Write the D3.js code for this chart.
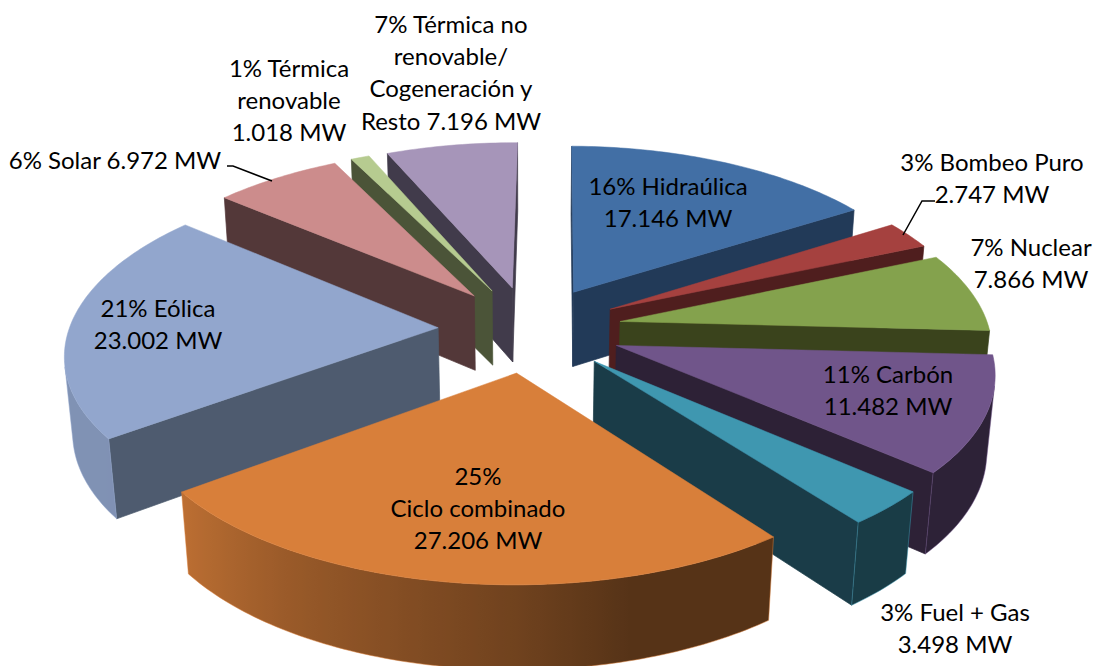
<!DOCTYPE html>
<html>
<head>
<meta charset="utf-8">
<script src="https://cdn.jsdelivr.net/npm/d3@7"></script>
<style>
html, body { margin: 0; padding: 0; background: #fff; }
svg { display: block; }
text { font-family: Lato, "Noto Sans", sans-serif; font-size: 24px; fill: #000; }
</style>
</head>
<body>
<script>
var categories = ['Hidraúlica', 'Bombeo Puro', 'Nuclear', 'Carbón', 'Fuel + Gas', 'Ciclo combinado', 'Eólica', 'Solar', 'Térmica renovable', 'Térmica no renovable/Cogeneración y Resto'];
var megawatts = [17146, 2747, 7866, 11482, 3498, 27206, 23002, 6972, 1018, 7196];
var topColors = ['#426fa5', '#a5413f', '#84a24d', '#70558a', '#3f97b0', '#d87f3a', '#92a6cd', '#cc8c8c', '#b6cb90', '#a695b9'];
var wallColors = ['#223a58', '#4f1e1e', '#3a431c', '#2d2136', '#1a3c48', '#55331a', '#4e5b6f', '#533839', '#4b5438', '#413b4b'];

// label lines, one entry per slice
var labelLines = [
    ['16% Hidraúlica', '17.146 MW'],
    ['3% Bombeo Puro', '2.747 MW'],
    ['7% Nuclear', '7.866 MW'],
    ['11% Carbón', '11.482 MW'],
    ['3% Fuel + Gas', '3.498 MW'],
    ['25%', 'Ciclo combinado', '27.206 MW'],
    ['21% Eólica', '23.002 MW'],
    ['6% Solar 6.972 MW'],
    ['1% Térmica', 'renovable', '1.018 MW'],
    ['7% Térmica no', 'renovable/', 'Cogeneración y', 'Resto 7.196 MW']
];
var labelCenterX = [668, 992, 1031, 888, 955, 478, 158, 115, 289, 451];
var labelFirstY = [195, 171, 256, 383, 621, 485, 317, 169, 77, 33];
var lineStep = 32.2;

var leaderLines = [
    [[227, 166], [233, 166], [272, 181]],
    [[935, 201], [922, 201], [903, 235]]
];

// geometry of the tilted pie
var width = 1093, height = 666;
var cx = 530, cy = 329;
var radius = 369, explode = 92, tilt = 0.469, thick = 77;
var perspX = 0.00036, perspY = 0.00034, perspZ = 0.00023;
var firstAngle = 0.01;

var shade = d3.scaleLinear().domain([0, 165, 180, 210, 234, 360]).range([0.4, 0.4, 0.52, 0.7, 0.88, 0.88]);

function project(x, y, z) {
    var kx = 1 / (1 - y * perspX + z * perspZ);
    var ky = 1 / (1 - y * perspY + z * perspZ);
    return [cx + x * kx, cy + y * tilt * ky + z * kx];
}

// signed area, negative when the wall faces the viewer
function facing(pts) {
    var s = 0;
    for (var i = 0; i < pts.length; i++) {
        var a = pts[i], b = pts[(i + 1) % pts.length];
        s += a[0] * b[1] - b[0] * a[1];
    }
    return s < 0;
}

var svg = d3.select(document.body).append('svg').attr('width', width).attr('height', height);
var defs = svg.append('defs');
var line = d3.line();
var pie = d3.pie().sort(null).startAngle(firstAngle).endAngle(2 * Math.PI + firstAngle);

var slices = pie(megawatts).map(function (d, i) {
    var mid = (d.startAngle + d.endAngle) / 2;
    return {
        i: i,
        start: d.startAngle,
        end: d.endAngle,
        mid: mid,
        tx: explode * Math.sin(mid),
        ty: -explode * Math.cos(mid)
    };
});

// back slices first
var order = slices.slice().sort(function (a, b) {
    return Math.cos(b.mid) - Math.cos(a.mid);
});

order.forEach(function (s) {
    var g = svg.append('g').attr('class', 'slice');
    var steps = Math.max(2, Math.ceil((s.end - s.start) / (Math.PI / 180)));
    var angles = d3.range(steps + 1).map(function (k) {
        return s.start + (s.end - s.start) * k / steps;
    });
    var rim = angles.map(function (a) {
        return [s.tx + radius * Math.sin(a), s.ty - radius * Math.cos(a)];
    });
    var tip = [s.tx, s.ty];

    function quad(p, q) {
        return [project(p[0], p[1], 0), project(q[0], q[1], 0), project(q[0], q[1], thick), project(p[0], p[1], thick)];
    }

    function wall(p, q, fill) {
        var pts = quad(p, q);
        if (!facing(pts)) return;
        g.append('path').attr('d', line(pts) + 'Z').attr('fill', fill).attr('stroke', fill).attr('stroke-width', 0.7);
    }

    wall(tip, rim[0], wallColors[s.i]);
    wall(rim[rim.length - 1], tip, wallColors[s.i]);

    // outer wall: only the part facing us, one path with a gradient along x
    var base = d3.rgb(topColors[s.i]);
    var seen = d3.range(rim.length - 1).filter(function (k) {
        return facing(quad(rim[k], rim[k + 1]));
    });
    if (seen.length) {
        var first = seen[0], last = seen[seen.length - 1] + 1;
        var upper = d3.range(first, last + 1).map(function (k) { return project(rim[k][0], rim[k][1], 0); });
        var lower = d3.range(last, first - 1, -1).map(function (k) { return project(rim[k][0], rim[k][1], thick); });
        var x0 = upper[0][0], x1 = upper[upper.length - 1][0];
        var grad = defs.append('linearGradient').attr('id', 'rim' + s.i)
            .attr('gradientUnits', 'userSpaceOnUse')
            .attr('x1', x0).attr('y1', 0).attr('x2', x1).attr('y2', 0);
        d3.range(first, last + 1).forEach(function (k, j) {
            var f = shade(angles[k] * 180 / Math.PI);
            grad.append('stop')
                .attr('offset', x1 === x0 ? 0 : (upper[j][0] - x0) / (x1 - x0))
                .attr('stop-color', d3.rgb(base.r * f, base.g * f, base.b * f).formatHex());
        });
        g.append('path').attr('d', line(upper.concat(lower)) + 'Z')
            .attr('fill', 'url(#rim' + s.i + ')')
            .attr('stroke', topColors[s.i]).attr('stroke-width', 0.5);
    }

    var top = [tip].concat(rim).map(function (p) { return project(p[0], p[1], 0); });
    g.append('path').attr('d', line(top) + 'Z').attr('fill', topColors[s.i]).attr('stroke', topColors[s.i]).attr('stroke-width', 0.5);
});

svg.selectAll('path.leader').data(leaderLines).enter().append('path')
    .attr('class', 'leader')
    .attr('d', line)
    .attr('fill', 'none')
    .attr('stroke', '#000')
    .attr('stroke-width', 1.5);

categories.forEach(function (name, i) {
    var t = svg.append('text').attr('text-anchor', 'middle');
    t.selectAll('tspan').data(labelLines[i]).enter().append('tspan')
        .attr('x', labelCenterX[i])
        .attr('y', function (d, j) { return labelFirstY[i] + j * lineStep; })
        .text(function (d) { return d; });
});
</script>
</body>
</html>
